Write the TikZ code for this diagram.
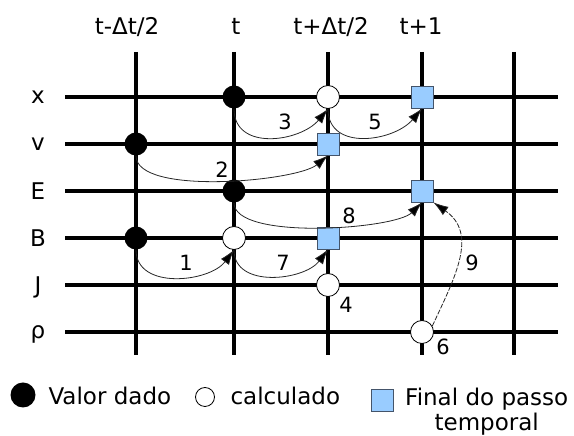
\documentclass[tikz,border=0pt]{standalone}
\usepackage{fontspec}
\setmainfont{DejaVu Sans}
\usetikzlibrary{arrows.meta}
\definecolor{sqfill}{HTML}{99CCFF}
\definecolor{sqedge}{HTML}{44546A}
\definecolor{ln}{HTML}{262626}
\tikzset{
  gridln/.style={line width=4pt,black},
  given/.style={circle,fill=black,minimum size=23pt,inner sep=0pt},
  calcd/.style={circle,draw=black,fill=white,line width=0.8pt,minimum size=23pt,inner sep=0pt},
  final/.style={rectangle,draw=sqedge,fill=sqfill,line width=0.8pt,minimum size=22pt,inner sep=0pt},
  num/.style={font=\fontsize{21}{24}\selectfont,inner sep=0pt},
  ar/.style={-{Latex[length=15pt,width=10pt,fill=black]},line width=0.8pt,draw=ln},
}
\begin{document}
\begin{tikzpicture}[x=1pt,y=1pt,font=\fontsize{23}{25}\selectfont]
\useasboundingbox (0,0) rectangle (574,436);
\foreach \y in {339,292,245,198,151,104} \draw[gridln] (65,\y) -- (558,\y);
\foreach \x in {136,234,328,422,514} \draw[gridln] (\x,384) -- (\x,81);
\node[anchor=base] (hA) at (127,401) {t-Δt/2};
\node[anchor=base] (hB) at (236,401) {t};
\node[anchor=base] (hC) at (331,401) {t+Δt/2};
\node[anchor=base] (hD) at (421,401) {t+1};
\node[text depth=0pt] (rx) at (38,339) {x};
\node[text depth=0pt] (rv) at (38,292) {v};
\node[text depth=0pt] (rE) at (38,245) {E};
\node[text depth=0pt] (rB) at (38,198) {B};
\node[text depth=0pt] (rJ) at (38,151) {J};
\node[text depth=0pt] (rr) at (38,104) {ρ};
\node[given] (xb) at (234,339) {};
\node[calcd] (xc) at (328,339) {};
\node[final] (xd) at (422,339) {};
\node[given] (va) at (136,292) {};
\node[final] (vc) at (328,292) {};
\node[given] (Eb) at (234,245) {};
\node[final] (Ed) at (422,245) {};
\node[given] (Ba) at (136,198) {};
\node[calcd] (Bb) at (234,198) {};
\node[final] (Bc) at (328,198) {};
\node[calcd] (Jc) at (328,151) {};
\node[calcd] (rd) at (422,104) {};
\draw[ar] (Ba.south) to[out=-90,in=-127,looseness=1.06] (Bb.south);
\draw[ar] (va.south) to[out=-90,in=-140,looseness=0.54] (vc.south);
\draw[ar] (xb.south) to[out=-90,in=-130,looseness=1.17] (xc.south);
\draw[ar] (xc.south) to[out=-90,in=-130,looseness=1.17] (xd.south);
\draw[ar] (Bb.south) to[out=-90,in=-127,looseness=1.06] (Bc.south);
\draw[ar] (Eb.south) to[out=-90,in=-135,looseness=0.52] (Ed.south);
\draw[ar,dash pattern=on 5pt off 1.5pt] (rd.30) to[out=65,in=-35,looseness=1.13] (Ed.south east);
\node[num] (n1) at (186,173) {1};
\node[num] (n2) at (222,266) {2};
\node[num] (n3) at (285,314) {3};
\node[num] (n4) at (346,131) {4};
\node[num] (n5) at (375,314) {5};
\node[num] (n6) at (443,89) {6};
\node[num] (n7) at (283,173) {7};
\node[num] (n8) at (349,220) {8};
\node[num] (n9) at (472,173) {9};
\node[given,minimum size=25pt] (lgA) at (23,41) {};
\node[anchor=base west] (lgAt) at (45,31) {Valor dado};
\node[calcd,minimum size=19pt] (lgB) at (205,39) {};
\node[anchor=base west] (lgBt) at (227,31) {calculado};
\node[final] (lgC) at (382,36) {};
\node[anchor=north west,align=center,inner sep=0pt] (lgCt) at (405,48.5) {Final do passo\\temporal};
\end{tikzpicture}
\end{document}
